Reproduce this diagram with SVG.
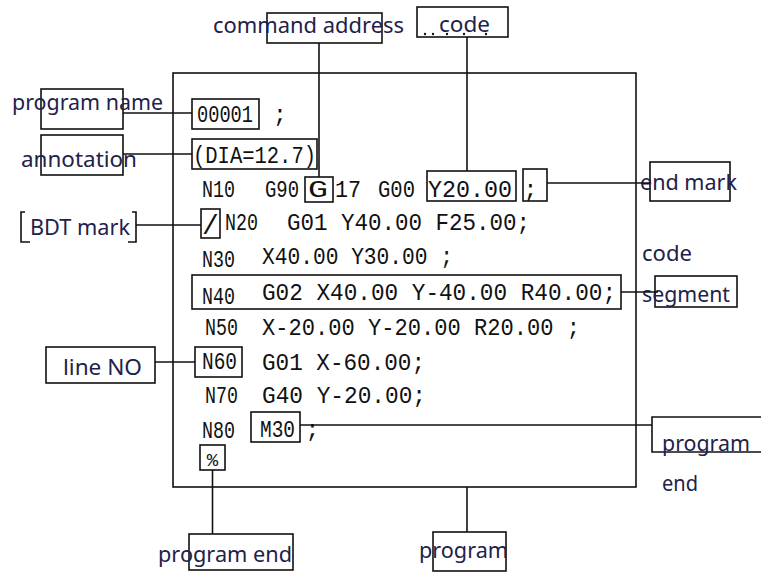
<svg xmlns="http://www.w3.org/2000/svg" width="761" height="572" viewBox="0 0 761 572">
  <style>
    .box { fill: none; stroke: #111; stroke-width: 1.6; }
    .wire { fill: none; stroke: #111; stroke-width: 1.6; }
    .lbl { font-family: "Noto Sans", "Open Sans", sans-serif; font-size: 22px; fill: #22214a; }
    .code { font-family: "Liberation Mono", "DejaVu Sans Mono", monospace; font-size: 23px; fill: #111; }
  </style>
  <rect width="761" height="572" fill="#fff"/>

  <!-- program frame -->
  <g id="program-frame">
    <rect class="box" x="173" y="73" width="463" height="414"/>
  </g>

  <!-- listing -->
  <g id="listing">
    <g id="name-item">
      <rect class="box" x="192" y="99" width="67" height="30"/>
      <text class="code" x="197" y="122" textLength="56" lengthAdjust="spacingAndGlyphs">00001</text>
      <text class="code" x="273" y="122">;</text>
    </g>
    <g id="annotation-item">
      <rect class="box" x="192" y="139" width="125" height="30"/>
      <text class="code" x="193" y="163" textLength="123" lengthAdjust="spacingAndGlyphs">(DIA=12.7)</text>
    </g>
    <g id="row-n10">
      <text class="code" x="202" y="197" textLength="33" lengthAdjust="spacingAndGlyphs">N10</text>
      <text class="code" x="265" y="197" textLength="34" lengthAdjust="spacingAndGlyphs">G90</text>
      <rect class="box" x="305" y="177" width="28" height="25"/>
      <text class="code" x="308" y="197" textLength="20" lengthAdjust="spacingAndGlyphs">G</text>
      <text class="code" x="335" y="197" textLength="26" lengthAdjust="spacingAndGlyphs">17</text>
      <text class="code" x="378" y="197" textLength="37" lengthAdjust="spacingAndGlyphs">G00</text>
      <rect class="box" x="427" y="171" width="89" height="30"/>
      <text class="code" x="428" y="197" textLength="84" lengthAdjust="spacingAndGlyphs">Y20.00</text>
      <rect class="box" x="523" y="169" width="24" height="32"/>
      <text class="code" x="523.5" y="197">;</text>
    </g>
    <g id="row-n20">
      <rect class="box" x="201" y="209" width="19" height="29"/>
      <text class="code" x="210.5" y="234" text-anchor="middle" style="font-size:28px">/</text>
      <text class="code" x="225" y="230" textLength="33" lengthAdjust="spacingAndGlyphs">N20</text>
      <text class="code" x="287" y="230" textLength="243" lengthAdjust="spacingAndGlyphs">G01 Y40.00 F25.00;</text>
    </g>
    <g id="row-n30">
      <text class="code" x="202" y="267" textLength="33" lengthAdjust="spacingAndGlyphs">N30</text>
      <text class="code" x="262" y="264" textLength="191" lengthAdjust="spacingAndGlyphs">X40.00 Y30.00 ;</text>
    </g>
    <g id="row-n40">
      <rect class="box" x="192" y="275" width="429" height="34"/>
      <text class="code" x="202" y="304" textLength="33" lengthAdjust="spacingAndGlyphs">N40</text>
      <text class="code" x="262" y="300" textLength="354" lengthAdjust="spacingAndGlyphs">G02 X40.00 Y-40.00 R40.00;</text>
    </g>
    <g id="row-n50">
      <text class="code" x="205" y="335" textLength="33" lengthAdjust="spacingAndGlyphs">N50</text>
      <text class="code" x="262" y="335" textLength="318" lengthAdjust="spacingAndGlyphs">X-20.00 Y-20.00 R20.00 ;</text>
    </g>
    <g id="row-n60">
      <rect class="box" x="195" y="347" width="47" height="30"/>
      <text class="code" x="202" y="369" textLength="35" lengthAdjust="spacingAndGlyphs">N60</text>
      <text class="code" x="262" y="370" textLength="163" lengthAdjust="spacingAndGlyphs">G01 X-60.00;</text>
    </g>
    <g id="row-n70">
      <text class="code" x="205" y="403" textLength="33" lengthAdjust="spacingAndGlyphs">N70</text>
      <text class="code" x="262" y="403" textLength="164" lengthAdjust="spacingAndGlyphs">G40 Y-20.00;</text>
    </g>
    <g id="row-n80">
      <text class="code" x="202" y="438" textLength="33" lengthAdjust="spacingAndGlyphs">N80</text>
      <rect class="box" x="251" y="412" width="49" height="30"/>
      <text class="code" x="260" y="437" textLength="35" lengthAdjust="spacingAndGlyphs">M30</text>
      <text class="code" x="305.5" y="437">;</text>
    </g>
    <g id="end-percent">
      <rect class="box" x="200" y="445" width="25" height="25"/>
      <text class="code" x="212.5" y="466" text-anchor="middle" style="font-size:19px">%</text>
    </g>
  </g>

  <!-- callout labels -->
  <g id="command-address">
    <rect class="box" x="267" y="13" width="115" height="30"/>
    <text class="lbl" x="213" y="33" textLength="191" lengthAdjust="spacingAndGlyphs">command address</text>
  </g>
  <g id="code-top">
    <rect class="box" x="417" y="7" width="91" height="30"/>
    <g fill="#111">
      <circle cx="425" cy="34" r="1.2"/>
      <circle cx="433" cy="34" r="1.2"/>
      <circle cx="447" cy="34" r="1.2"/>
      <circle cx="464" cy="34" r="1.2"/>
      <circle cx="486" cy="34" r="1.2"/>
    </g>
    <text class="lbl" x="439" y="32" textLength="51" lengthAdjust="spacingAndGlyphs">code</text>
  </g>
  <g id="program-name">
    <rect class="box" x="41" y="89" width="82" height="40"/>
    <text class="lbl" x="12" y="110" textLength="151" lengthAdjust="spacingAndGlyphs">program name</text>
  </g>
  <g id="annotation">
    <rect class="box" x="41" y="135" width="82" height="40"/>
    <text class="lbl" x="21" y="167" textLength="116" lengthAdjust="spacingAndGlyphs">annotation</text>
  </g>
  <g id="bdt-mark">
    <path class="box" d="M25,212 H21 V242 H30 M132,212 H136 V242 H128"/>
    <text class="lbl" x="30" y="235" textLength="100" lengthAdjust="spacingAndGlyphs">BDT mark</text>
  </g>
  <g id="line-no">
    <rect class="box" x="46" y="347" width="109" height="36"/>
    <text class="lbl" x="63" y="375" textLength="79" lengthAdjust="spacingAndGlyphs">line NO</text>
  </g>
  <g id="end-mark">
    <rect class="box" x="650" y="162" width="80" height="39"/>
    <text class="lbl" x="640" y="190" textLength="97" lengthAdjust="spacingAndGlyphs">end mark</text>
  </g>
  <g id="code-segment">
    <rect class="box" x="655" y="276" width="82" height="31"/>
    <text class="lbl" x="642" y="261" textLength="50" lengthAdjust="spacingAndGlyphs">code</text>
    <text class="lbl" x="642" y="302" textLength="88" lengthAdjust="spacingAndGlyphs">segment</text>
  </g>
  <g id="program-end-right">
    <path class="box" d="M761,417 H652 V452 H761"/>
    <text class="lbl" x="662" y="451" textLength="88" lengthAdjust="spacingAndGlyphs">program</text>
    <text class="lbl" x="662" y="491" textLength="36" lengthAdjust="spacingAndGlyphs">end</text>
  </g>
  <g id="program-end-bottom">
    <rect class="box" x="189" y="534" width="104" height="36"/>
    <text class="lbl" x="158" y="562" textLength="134" lengthAdjust="spacingAndGlyphs">program end</text>
  </g>
  <g id="program-bottom">
    <rect class="box" x="433" y="532" width="73" height="39"/>
    <text class="lbl" x="419" y="558" textLength="89" lengthAdjust="spacingAndGlyphs">program</text>
  </g>

  <!-- connectors -->
  <g id="connectors" class="wire">
    <line class="wire" x1="319" y1="43" x2="319" y2="177"/>
    <line class="wire" x1="467" y1="37" x2="467" y2="171"/>
    <line class="wire" x1="123" y1="113" x2="192" y2="113"/>
    <line class="wire" x1="123" y1="154" x2="192" y2="154"/>
    <line class="wire" x1="136" y1="225" x2="201" y2="225"/>
    <line class="wire" x1="155" y1="362" x2="195" y2="362"/>
    <line class="wire" x1="547" y1="183" x2="650" y2="183"/>
    <line class="wire" x1="621" y1="292" x2="658" y2="292"/>
    <line class="wire" x1="300" y1="425" x2="652" y2="425"/>
    <line class="wire" x1="212.5" y1="470" x2="212.5" y2="534"/>
    <line class="wire" x1="467" y1="487" x2="467" y2="532"/>
  </g>
</svg>
